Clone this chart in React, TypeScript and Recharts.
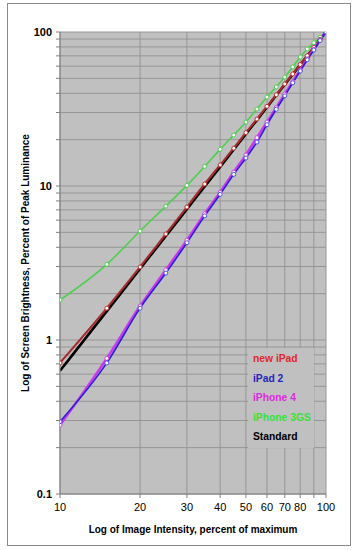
import React from 'react';
import { CartesianGrid, Legend, Line, LineChart, XAxis, YAxis } from 'recharts';

// image intensity, percent of maximum
const intensity = [10, 15, 20, 25, 30, 35, 40, 45, 50, 55, 60, 65, 70, 75, 80, 85, 90, 95, 100];

// screen brightness, percent of peak luminance
const newIPad = [0.71, 1.61, 2.98, 4.88, 7.3, 10.3, 13.7, 17.6, 22.2, 27.2, 32.9, 39.1, 46.0, 53.4, 61.5, 70.2, 79.5, 89.5, 100];
const iPad2 = [0.295, 0.71, 1.61, 2.72, 4.28, 6.4, 8.83, 11.9, 15.2, 19.3, 25.0, 31.5, 38.5, 46.8, 55.8, 66.0, 76.4, 88.0, 100];
const iPhone4 = [0.28, 0.76, 1.66, 2.85, 4.45, 6.6, 9.1, 12.3, 15.9, 20.6, 26.0, 32.3, 39.5, 47.6, 56.6, 66.8, 77.2, 88.5, 100];
const iPhone3GS = [1.82, 3.1, 5.1, 7.4, 10.1, 13.4, 17.3, 21.4, 26.0, 31.6, 37.8, 44.0, 51.0, 59.3, 68.8, 77.6, 85.0, 92.5, 100];
const standard = [0.631, 1.54, 2.9, 4.74, 7.07, 9.93, 13.3, 17.3, 21.8, 26.8, 32.5, 38.8, 45.6, 53.1, 61.2, 69.9, 79.3, 89.3, 100];

const xTicks = [10, 20, 30, 40, 50, 60, 70, 80, 90, 100];
const xLabels = [10, 20, 30, 40, 50, 60, 70, 80, 100];
const yTicks = [
  0.1, 0.2, 0.3, 0.4, 0.5, 0.6, 0.7, 0.8, 0.9,
  1, 2, 3, 4, 5, 6, 7, 8, 9,
  10, 20, 30, 40, 50, 60, 70, 80, 90, 100,
];
const yLabels = [0.1, 1, 10, 100];

const legendItems = [
  { name: 'new iPad', color: '#e02828' },
  { name: 'iPad 2', color: '#2424c0' },
  { name: 'iPhone 4', color: '#e028e0' },
  { name: 'iPhone 3GS', color: '#38e038' },
  { name: 'Standard', color: '#000000' },
];

const data = intensity.map((x, i) => ({
  x,
  newIPad: newIPad[i],
  iPad2: iPad2[i],
  iPhone4: iPhone4[i],
  iPhone3GS: iPhone3GS[i],
  standard: standard[i],
}));

const font = '"Liberation Sans", Arial, sans-serif';

const LegendBox = () => (
  <div style={{ background: '#c0c0c0', paddingLeft: 5, paddingTop: 4, height: 96, fontFamily: font }}>
    {legendItems.map((item) => (
      <div
        key={item.name}
        style={{ color: item.color, fontWeight: 'bold', fontSize: 10.3, height: 19.5, lineHeight: '14px' }}
      >
        {item.name}
      </div>
    ))}
  </div>
);

const dot = (stroke: string) => ({ r: 2, fill: '#ffffff', stroke, strokeWidth: 1 });

export default function App() {
  return (
    <div style={{ position: 'absolute', left: 0, top: 0, width: 355, height: 550, background: '#fff' }}>
      <div
        style={{
          position: 'absolute',
          left: 7,
          top: 3,
          width: 342,
          height: 541,
          border: '1px solid #8a8a8a',
        }}
      />
      <LineChart
        width={355}
        height={550}
        data={data}
        margin={{ top: 32, right: 29, bottom: 26, left: 10 }}
        style={{ fontFamily: font }}
      >
        <CartesianGrid fill="#c0c0c0" stroke="#969696" strokeWidth={1} />
        <XAxis
          dataKey="x"
          type="number"
          scale="log"
          domain={[10, 100]}
          ticks={xTicks}
          tickFormatter={(v: number) => (xLabels.includes(v) ? String(v) : '')}
          interval={0}
          height={30}
          tickSize={4}
          tickMargin={5}
          stroke="#808080"
          tick={{ fill: '#000', fontSize: 11 }}
          allowDataOverflow
          label={{
            value: 'Log of Image Intensity, percent of maximum',
            position: 'bottom',
            offset: 2,
            style: { fontWeight: 'bold', fontSize: 10, fill: '#000' },
          }}
        />
        <YAxis
          type="number"
          scale="log"
          domain={[0.1, 100]}
          ticks={yTicks}
          tickFormatter={(v: number) => (yLabels.includes(v) ? String(v) : '')}
          interval={0}
          width={50}
          tickSize={4}
          tickMargin={4}
          stroke="#808080"
          tick={{ fill: '#000', fontSize: 11, fontWeight: 'bold' }}
          allowDataOverflow
          label={{
            value: 'Log of Screen Brightness, Percent of Peak Luminance',
            angle: -90,
            position: 'insideLeft',
            offset: 15,
            style: { textAnchor: 'middle', fontWeight: 'bold', fontSize: 10, fill: '#000' },
          }}
        />
        <Line
          dataKey="iPhone3GS"
          type="monotone"
          stroke="#4ccf4c"
          strokeWidth={1.6}
          dot={dot('#4ccf4c')}
          isAnimationActive={false}
        />
        <Line
          dataKey="standard"
          type="monotone"
          stroke="#000000"
          strokeWidth={2.6}
          dot={false}
          isAnimationActive={false}
        />
        <Line
          dataKey="newIPad"
          type="monotone"
          stroke="#a82a2a"
          strokeWidth={2.1}
          dot={dot('#c03030')}
          isAnimationActive={false}
        />
        <Line
          dataKey="iPhone4"
          type="monotone"
          stroke="#c838f0"
          strokeWidth={2.6}
          dot={dot('#d040e0')}
          isAnimationActive={false}
        />
        <Line
          dataKey="iPad2"
          type="monotone"
          stroke="#2a20d0"
          strokeWidth={1.6}
          dot={dot('#5050e0')}
          isAnimationActive={false}
        />
        <Legend
          layout="vertical"
          align="center"
          verticalAlign="middle"
          content={<LegendBox />}
          wrapperStyle={{ position: 'absolute', left: 248, top: 348, width: 66, height: 100, bottom: 'auto', right: 'auto' }}
        />
      </LineChart>
    </div>
  );
}
